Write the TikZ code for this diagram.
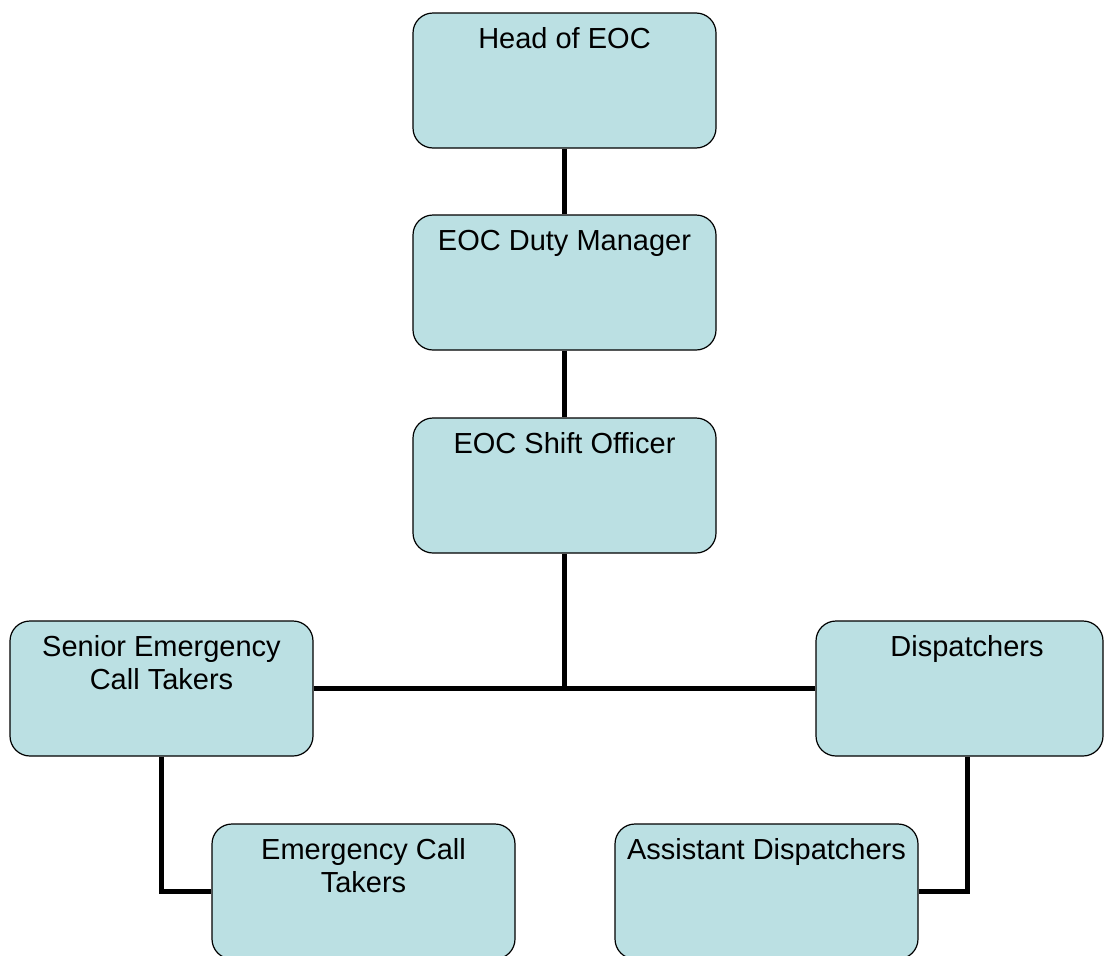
\documentclass[tikz,border=0pt]{standalone}
\usepackage{fontspec}
\setmainfont{Liberation Sans}
\definecolor{boxfill}{RGB}{187,224,227}
\newcommand\orgtext[2][303pt]{\parbox[t][135pt][t]{#1}{\centering\rule{0pt}{35pt}#2}}
\begin{document}
\begin{tikzpicture}[x=1pt,y=-1pt,
  orgbox/.style={draw=black, line width=1.2pt, fill=boxfill, rounded corners=20pt,
    inner sep=0pt, font=\fontsize{29}{33}\selectfont},
  conn/.style={draw=black, line width=5pt}]
\useasboundingbox (0,0) rectangle (1104,956);
\clip (0,0) rectangle (1104,956);
\fill[white] (0,0) rectangle (1104,956);
\node[orgbox] (head)   at (564.5,80.5)  {\orgtext{Head of EOC}};
\node[orgbox] (duty)   at (564.5,282.5) {\orgtext{EOC Duty Manager}};
\node[orgbox] (shift)  at (564.5,485.5) {\orgtext{EOC Shift Officer}};
\node[orgbox] (senior) at (161.5,688.5) {\orgtext{Senior Emergency\\Call Takers}};
\node[orgbox] (disp)   at (959.5,688.5) {\orgtext[287pt]{\hspace*{15pt}Dispatchers}};
\node[orgbox] (ect)    at (363.5,891.5) {\orgtext{Emergency Call\\Takers}};
\node[orgbox] (asst)   at (766.5,891.5) {\orgtext{Assistant Dispatchers}};
\coordinate (dispdown) at ([xshift=8pt]disp.south);
\draw[conn] (head.south) -- (duty.north);
\draw[conn] (duty.south) -- (shift.north);
\draw[conn] (senior.east) -- (disp.west);
\draw[conn] (shift.south) -- (shift.south |- senior.east);
\draw[conn] (senior.south) |- (ect.west);
\draw[conn] (dispdown) |- (asst.east);
\end{tikzpicture}
\end{document}
